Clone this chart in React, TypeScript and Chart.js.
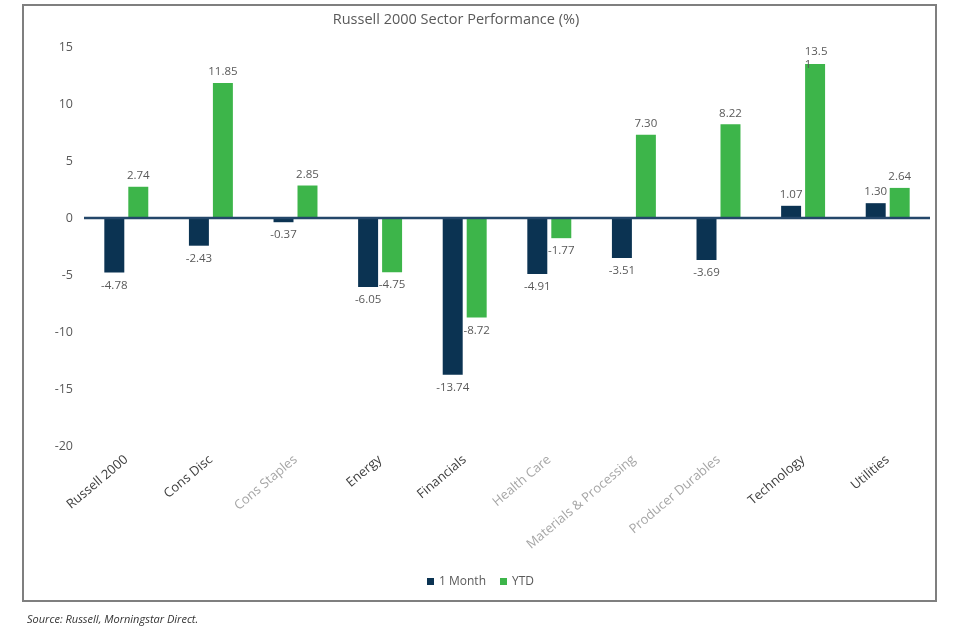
import React, { useEffect, useRef } from "react";
import { Chart, registerables } from "chart.js";

Chart.register(...registerables);

const categories = [
  "Russell 2000",
  "Cons Disc",
  "Cons Staples",
  "Energy",
  "Financials",
  "Health Care",
  "Materials & Processing",
  "Producer Durables",
  "Technology",
  "Utilities",
];
const oneMonth = [-4.78, -2.43, -0.37, -6.05, -13.74, -4.91, -3.51, -3.69, 1.07, 1.3];
const ytd = [2.74, 11.85, 2.85, -4.75, -8.72, -1.77, 7.3, 8.22, 13.51, 2.64];
const oneMonthLabels = ["-4.78", "-2.43", "-0.37", "-6.05", "-13.74", "-4.91", "-3.51", "-3.69", "1.07", "1.30"];
const ytdLabels = ["2.74", "11.85", "2.85", "-4.75", "-8.72", "-1.77", "7.30", "8.22", "13.5\n1", "2.64"];
const lightLabelIdx = [2, 5, 6, 7];
const yTicks = [15, 10, 5, 0, -5, -10, -15, -20];

const NAVY = "#0b3352";
const GREEN = "#3db54a";
const FONT = "'Open Sans', 'DejaVu Sans', sans-serif";

const decorPlugin = {
  id: "decor",
  afterDatasetsDraw(chart: any) {
    const ctx = chart.ctx;
    const area = chart.chartArea;
    const y = chart.scales.y;
    ctx.save();
    ctx.strokeStyle = "#24476a";
    ctx.lineWidth = 2.5;
    ctx.beginPath();
    const y0 = y.getPixelForValue(0);
    ctx.moveTo(area.left, y0);
    ctx.lineTo(area.right, y0);
    ctx.stroke();

    ctx.font = `11.5px ${FONT}`;
    ctx.fillStyle = "#595959";
    ctx.textAlign = "center";
    ctx.textBaseline = "middle";
    const sets = [oneMonthLabels, ytdLabels];
    chart.data.datasets.forEach((ds: any, di: number) => {
      const meta = chart.getDatasetMeta(di);
      meta.data.forEach((bar: any, i: number) => {
        const v = ds.data[i];
        const txt: string = sets[di][i];
        const lines = txt.split("\n");
        if (v >= 0) {
          if (lines.length > 1) {
            ctx.fillText(lines[0], bar.x + 1, bar.y - 12);
            const w0 = ctx.measureText(lines[0]).width;
            ctx.textAlign = "left";
            ctx.fillText(lines[1], bar.x + 1 - w0 / 2, bar.y + 1);
            ctx.textAlign = "center";
          } else {
            ctx.fillText(txt, bar.x, bar.y - 11);
          }
        } else {
          ctx.fillText(txt, bar.x, bar.y + 13);
        }
      });
    });

    ctx.restore();
  },
  afterDraw(chart: any) {
    const ctx = chart.ctx;
    ctx.save();
    ctx.strokeStyle = "#7f7f7f";
    ctx.lineWidth = 2;
    ctx.strokeRect(23, 5, 913, 596);
    ctx.fillStyle = "#595959";
    ctx.font = `14.5px ${FONT}`;
    ctx.textAlign = "center";
    ctx.textBaseline = "middle";
    ctx.fillText("Russell 2000 Sector Performance (%)", 456, 20);
    ctx.font = `12px ${FONT}`;
    ctx.textAlign = "left";
    const items = [
      { label: chart.data.datasets[0].label, color: NAVY, x: 427 },
      { label: chart.data.datasets[1].label, color: GREEN, x: 500 },
    ];
    items.forEach((it) => {
      ctx.fillStyle = it.color;
      ctx.fillRect(it.x, 578, 7, 7);
      ctx.fillStyle = "#595959";
      ctx.fillText(it.label, it.x + 12, 582);
    });
    ctx.font = `italic 11px ${FONT}`;
    ctx.fillStyle = "#333333";
    ctx.fillText("Source: Russell, Morningstar Direct.", 27, 620);
    ctx.restore();
  },
};

export default function App() {
  const ref = useRef<HTMLCanvasElement>(null);
  useEffect(() => {
    if (!ref.current) return;
    const chart = new Chart(ref.current, {
      type: "bar",
      data: {
        labels: categories,
        datasets: [
          {
            label: "1 Month",
            data: oneMonth,
            backgroundColor: NAVY,
            barPercentage: 0.833,
            categoryPercentage: 0.567,
          },
          {
            label: "YTD",
            data: ytd,
            backgroundColor: GREEN,
            barPercentage: 0.833,
            categoryPercentage: 0.567,
          },
        ],
      },
      options: {
        responsive: false,
        animation: false,
        layout: { padding: { top: 47, left: 0, right: 30, bottom: 40 } },
        plugins: {
          legend: { display: false },
          title: { display: false },
          tooltip: { enabled: false },
        },
        scales: {
          x: {
            grid: { display: false, drawTicks: false },
            border: { display: false },
            ticks: {
              minRotation: 40,
              maxRotation: 40,
              autoSkip: false,
              padding: 6,
              font: { family: FONT, size: 13 },
              color: (c: any) => (lightLabelIdx.includes(c.index) ? "#a6a6a6" : "#404040"),
            },
            afterFit: (s: any) => {
              s.height = 150;
            },
          },
          y: {
            min: -20,
            max: 15,
            grid: { display: false, drawTicks: false },
            border: { display: false },
            afterBuildTicks: (s: any) => {
              s.ticks = yTicks.map((v) => ({ value: v }));
            },
            ticks: {
              padding: 11,
              font: { family: FONT, size: 12.5 },
              color: "#595959",
            },
            afterFit: (s: any) => {
              s.width = 84;
            },
          },
        },
      },
      plugins: [decorPlugin],
    });
    return () => chart.destroy();
  }, []);
  return (
    <div style={{ position: "absolute", left: 0, top: 0, width: 960, height: 636, background: "#fff" }}>
      <canvas ref={ref} width={960} height={636} />
    </div>
  );
}
